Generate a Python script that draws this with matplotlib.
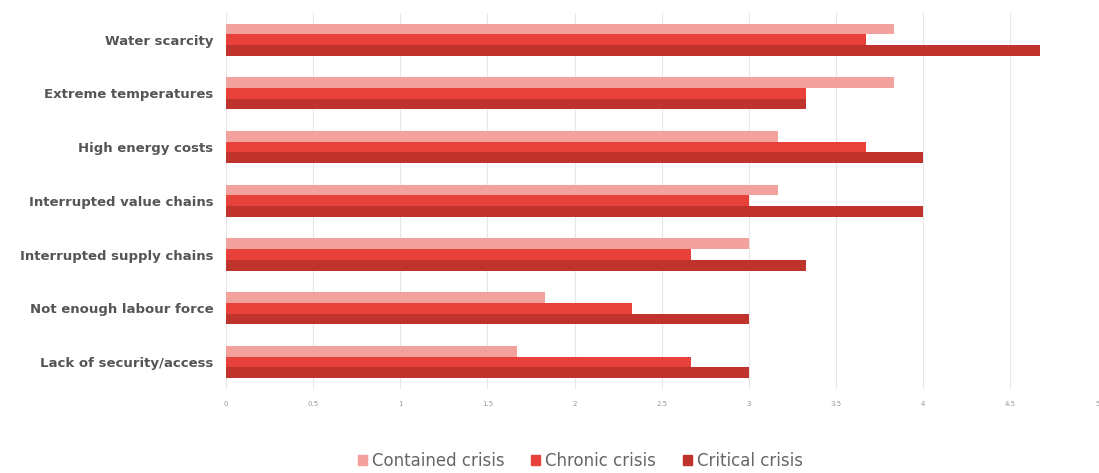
import numpy as np
import matplotlib.pyplot as plt
from matplotlib.patches import Patch

categories = ['Water scarcity', 'Extreme temperatures', 'High energy costs',
              'Interrupted value chains', 'Interrupted supply chains',
              'Not enough labour force', 'Lack of security/access']
contained = [3.83, 3.83, 3.17, 3.17, 3.0, 1.83, 1.67]
chronic = [3.67, 3.33, 3.67, 3.0, 2.67, 2.33, 2.67]
critical = [4.67, 3.33, 4.0, 4.0, 3.33, 3.0, 3.0]
series_names = ['Contained crisis', 'Chronic crisis', 'Critical crisis']
colors = ['#f2a19d', '#e8403a', '#c0332c']
xticks = [0, 0.5, 1, 1.5, 2, 2.5, 3, 3.5, 4, 4.5, 5]

fig = plt.figure(figsize=(10.99, 4.73), dpi=100)
ax = fig.add_axes([0.2056, 0.178, 0.793, 0.795])

y = np.arange(len(categories))
h = 0.2
for i, (vals, c) in enumerate(zip([contained, chronic, critical], colors)):
    ax.barh(y + (i - 1) * h, vals, height=h, color=c, zorder=2)

ax.set_xlim(0, 5)
ax.set_ylim(len(categories) - 0.5, -0.5)
ax.set_yticks(y)
ax.set_yticklabels(categories, fontsize=9.5, fontweight='bold', color='#555555')
ax.set_xticks(xticks)
ax.set_xticklabels([('%g' % t) for t in xticks], fontsize=5, color='#999999')
ax.tick_params(axis='both', length=0)
ax.tick_params(axis='x', pad=9)
ax.tick_params(axis='y', pad=9)
ax.grid(axis='x', color='#e6e6e6', linewidth=0.8, zorder=0)
for s in ax.spines.values():
    s.set_visible(False)

handles = [Patch(color=c, label=n) for c, n in zip(colors, series_names)]
fig.legend(handles=handles, loc='center', bbox_to_anchor=(0.528, 0.025), ncol=3,
           frameon=False, fontsize=12, labelcolor='#666666',
           handlelength=0.55, handleheight=0.55, handletextpad=0.3, columnspacing=1.6)

fig.savefig('out.png', dpi=100)
